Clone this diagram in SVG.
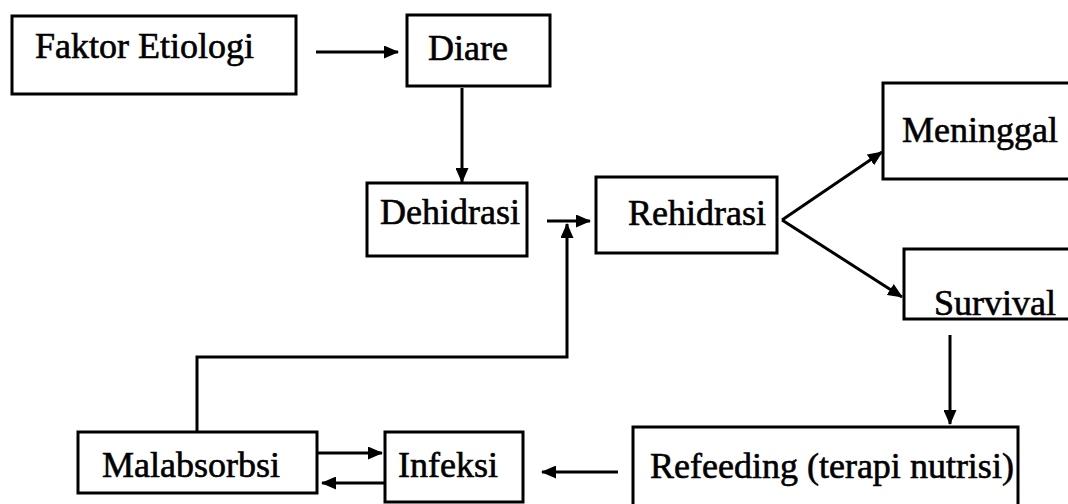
<svg xmlns="http://www.w3.org/2000/svg" width="1068" height="504" viewBox="0 0 1068 504">
<style>
.box{fill:#fff;stroke:#000;stroke-width:3}
.lbl{font-family:"Liberation Serif","Times New Roman",serif;font-size:36px;fill:#000;stroke:#000;stroke-width:0.6}
.con{fill:none;stroke:#000;stroke-width:3}
</style>
<defs>
<marker id="ah" markerUnits="userSpaceOnUse" markerWidth="15" markerHeight="13" refX="14" refY="6.5" orient="auto">
<path d="M0,0 L15,6.5 L0,13 z" fill="#000"/>
</marker>
</defs>
<rect width="1068" height="504" fill="#fff"/>
<g id="faktor"><rect class="box" x="12" y="16" width="284" height="78"/><text class="lbl" x="35" y="58">Faktor Etiologi</text></g>
<g id="diare"><rect class="box" x="407" y="15" width="143" height="71"/><text class="lbl" x="428" y="60">Diare</text></g>
<g id="dehidrasi"><rect class="box" x="367" y="183" width="160" height="73"/><text class="lbl" x="380" y="224">Dehidrasi</text></g>
<g id="rehidrasi"><rect class="box" x="596" y="177" width="181" height="76"/><text class="lbl" x="628" y="225">Rehidrasi</text></g>
<g id="meninggal"><rect class="box" x="883" y="83" width="200" height="96"/><text class="lbl" x="902" y="142">Meninggal</text></g>
<g id="survival"><rect class="box" x="904" y="249" width="180" height="70"/><text class="lbl" x="934" y="315">Survival</text></g>
<g id="refeeding"><rect class="box" x="633" y="427" width="385" height="90"/><text class="lbl" x="650" y="478">Refeeding (terapi nutrisi)</text></g>
<g id="infeksi"><rect class="box" x="385" y="432" width="138" height="70"/><text class="lbl" x="398" y="477">Infeksi</text></g>
<g id="malabsorbsi"><rect class="box" x="78" y="432" width="239" height="61"/><text class="lbl" x="102" y="477">Malabsorbsi</text></g>
<g id="connectors">
<line class="con" x1="316" y1="52" x2="398" y2="52" marker-end="url(#ah)"/>
<line class="con" x1="462" y1="88" x2="462" y2="182" marker-end="url(#ah)"/>
<line class="con" x1="547" y1="221" x2="590" y2="221" marker-end="url(#ah)"/>
<polyline class="con" points="197,432 197,357 567,357 567,224" marker-end="url(#ah)"/>
<line class="con" x1="782" y1="220" x2="882" y2="152" marker-end="url(#ah)"/>
<line class="con" x1="782" y1="220" x2="902" y2="297" marker-end="url(#ah)"/>
<line class="con" x1="950" y1="335" x2="950" y2="424" marker-end="url(#ah)"/>
<line class="con" x1="618" y1="472" x2="542" y2="472" marker-end="url(#ah)"/>
<line class="con" x1="317" y1="453" x2="382" y2="453" marker-end="url(#ah)"/>
<line class="con" x1="386" y1="483" x2="322" y2="483" marker-end="url(#ah)"/>
</g>
</svg>
